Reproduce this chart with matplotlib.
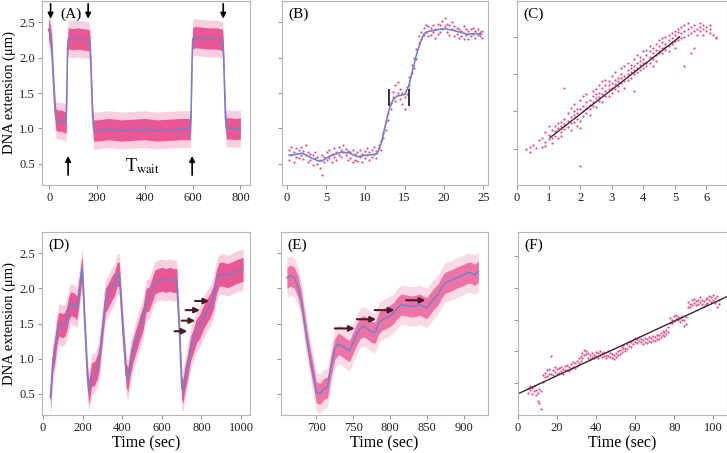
import matplotlib
matplotlib.use("Agg")
import matplotlib.pyplot as plt
import numpy as np

plt.rcParams['font.family'] = ['Liberation Serif', 'DejaVu Serif']
plt.rcParams['mathtext.fontset'] = 'stix'

# ---- data ----
# (A) step experiment: mean trace
a_t = [-3, 3, 10, 17, 24, 28, 35, 50, 65, 71, 74, 77, 80, 100, 120, 140, 160, 168,
       172, 177, 182, 186, 200, 250, 300, 350, 400, 450, 500, 550, 590, 594, 597,
       600, 610, 640, 670, 700, 725, 729, 733, 737, 741, 760, 780, 800]
a_y = [2.40, 2.33, 2.19, 1.70, 1.27, 1.13, 1.11, 1.11, 1.09, 1.08, 1.60, 2.15, 2.27,
       2.26, 2.27, 2.26, 2.25, 2.24, 2.10, 1.60, 1.15, 0.97, 0.97, 0.99, 0.97, 0.98,
       0.99, 0.97, 0.98, 0.99, 0.99, 1.30, 1.90, 2.27, 2.29, 2.28, 2.27, 2.27, 2.25,
       2.05, 1.60, 1.15, 1.00, 1.00, 0.99, 1.00]
a_down = [6, 163, 728]
a_up = [79, 598]

# (B) single transition: smoothed trace and raw points
b_mt = [0.3, 1, 2, 3, 4, 4.5, 5.5, 7, 8, 9, 10, 11, 11.5, 12, 12.5, 13, 13.5, 14, 15,
        15.5, 16, 16.5, 17, 17.5, 18, 19, 20, 21, 22, 23, 24, 24.8]
b_my = [0.62, 0.63, 0.65, 0.59, 0.54, 0.54, 0.61, 0.665, 0.65, 0.60, 0.62, 0.63, 0.64,
        0.78, 1.02, 1.26, 1.40, 1.455, 1.48, 1.59, 1.82, 2.04, 2.22, 2.34, 2.37, 2.39,
        2.41, 2.39, 2.36, 2.33, 2.34, 2.33]
b_t = [0.3, 0.6, 0.9, 1.2, 1.5, 1.8, 2.1, 2.4, 2.7, 3.0, 3.3, 3.6, 3.9, 4.2, 4.5, 4.8,
       5.1, 5.4, 5.7, 6.0, 6.3, 6.6, 6.9, 7.2, 7.5, 7.8, 8.1, 8.4, 8.7, 9.0, 9.3, 9.6,
       9.9, 10.2, 10.5, 10.8, 11.1, 11.4, 11.7, 12.0, 12.3, 12.6, 12.9, 13.2, 13.5,
       13.8, 14.1, 14.4, 14.7, 15.0, 15.3, 15.6, 15.9, 16.2, 16.5, 16.8, 17.1, 17.4,
       17.7, 18.0, 18.3, 18.6, 18.9, 19.2, 19.5, 19.8, 20.1, 20.4, 20.7, 21.0, 21.3,
       21.6, 21.9, 22.2, 22.5, 22.8, 23.1, 23.4, 23.7, 24.0, 24.3, 24.6, 24.9]
b_y1 = [0.70, 0.62, 0.66, 0.72, 0.58, 0.74, 0.68, 0.76, 0.52, 0.64, 0.48, 0.58, 0.50,
        0.44, 0.62, 0.52, 0.66, 0.58, 0.64, 0.72, 0.66, 0.74, 0.60, 0.76, 0.62, 0.68,
        0.58, 0.70, 0.56, 0.66, 0.60, 0.52, 0.68, 0.62, 0.56, 0.70, 0.64, 0.58, 0.72,
        0.82, 0.94, 1.10, 1.22, 1.36, 1.44, 1.62, 1.50, 1.42, 1.34, 1.45, 1.58, 1.72,
        1.90, 2.00, 2.12, 2.20, 2.26, 2.42, 2.36, 2.44, 2.32, 2.46, 2.40, 2.48, 2.36,
        2.52, 2.44, 2.36, 2.46, 2.40, 2.30, 2.42, 2.28, 2.38, 2.44, 2.32, 2.26, 2.40,
        2.34, 2.28, 2.40, 2.30, 2.38]
b_y2 = [0.55, 0.74, 0.52, 0.60, 0.69, 0.63, 0.57, 0.62, 0.66, 0.56, 0.62, 0.66, 0.60,
        0.56, 0.34, 0.60, 0.55, 0.70, 0.52, 0.60, 0.56, 0.62, 0.70, 0.66, 0.71, 0.56,
        0.66, 0.52, 0.64, 0.54, 0.70, 0.64, 0.58, 0.72, 0.66, 0.60, 0.74, 0.68, 0.76,
        0.70, 0.86, 0.98, 1.12, 1.28, 1.52, 1.38, 1.66, 1.56, 1.50, 1.28, 1.48, 1.62,
        1.78, 1.86, 1.98, 2.30, 2.36, 2.32, 2.46, 2.30, 2.42, 2.36, 2.28, 2.34, 2.46,
        2.40, 2.56, 2.48, 2.32, 2.50, 2.44, 2.34, 2.40, 2.30, 2.26, 2.40, 2.38, 2.30,
        2.42, 2.38, 2.32, 2.36, 2.28]
b_marks = [13.0, 15.5]

# (C) points and linear fit
c_x = [0.3, 0.4, 0.4, 0.5, 0.6, 0.7, 0.8, 0.8, 0.9, 0.9, 0.9, 1.0, 1.0, 1.0,
       1.1, 1.1, 1.1, 1.2, 1.2, 1.2, 1.3, 1.3, 1.3, 1.4, 1.4, 1.4, 1.4,
       1.5, 1.5, 1.5, 1.5, 1.6, 1.6, 1.6, 1.7, 1.7, 1.7, 1.7, 1.8, 1.8, 1.8, 1.8,
       1.9, 1.9, 1.9, 1.9, 2.0, 2.0, 2.0, 2.0, 2.0, 2.1, 2.1, 2.1, 2.1,
       2.2, 2.2, 2.2, 2.2, 2.3, 2.3, 2.3, 2.3, 2.4, 2.4, 2.4, 2.4, 2.5, 2.5, 2.5, 2.5,
       2.6, 2.6, 2.6, 2.6, 2.7, 2.7, 2.7, 2.7, 2.8, 2.8, 2.8, 2.8, 2.9, 2.9, 2.9, 2.9,
       3.0, 3.0, 3.0, 3.0, 3.1, 3.1, 3.1, 3.1, 3.2, 3.2, 3.2, 3.2, 3.3, 3.3, 3.3, 3.3,
       3.4, 3.4, 3.4, 3.4, 3.5, 3.5, 3.5, 3.5, 3.6, 3.6, 3.6, 3.6,
       3.7, 3.7, 3.7, 3.7, 3.7, 3.8, 3.8, 3.8, 3.8, 3.9, 3.9, 3.9, 3.9,
       4.0, 4.0, 4.0, 4.0, 4.1, 4.1, 4.1, 4.1, 4.2, 4.2, 4.2, 4.2, 4.3, 4.3, 4.3, 4.3,
       4.4, 4.4, 4.4, 4.4, 4.5, 4.5, 4.5, 4.5, 4.6, 4.6, 4.6, 4.6, 4.7, 4.7, 4.7, 4.7,
       4.8, 4.8, 4.8, 4.8, 4.9, 4.9, 4.9, 4.9, 5.0, 5.0, 5.0, 5.0, 5.1, 5.1, 5.1, 5.1,
       5.2, 5.2, 5.2, 5.3, 5.3, 5.3, 5.3, 5.4, 5.4, 5.4, 5.5, 5.5, 5.5, 5.6, 5.6, 5.6,
       5.7, 5.7, 5.8, 5.8, 5.8, 5.9, 5.9, 5.9, 6.0, 6.0, 6.1, 6.1, 6.1, 6.2, 6.3, 6.3]
c_y = [0.98, 1.05, 0.92, 1.10, 1.02, 1.22, 1.30, 1.05, 1.45, 1.18, 1.08, 1.60, 1.25, 1.38,
       1.30, 1.50, 1.15, 1.62, 1.35, 1.48, 1.55, 1.28, 1.70, 1.72, 1.45, 1.60, 1.35,
       1.80, 1.52, 2.62, 1.66, 1.95, 1.58, 1.75, 2.10, 1.68, 1.85, 1.50, 2.02, 1.72, 1.90, 2.20,
       1.80, 2.05, 1.62, 1.95, 2.30, 1.75, 2.05, 1.55, 0.55, 2.15, 1.88, 2.40, 2.00,
       2.25, 1.95, 2.10, 2.45, 2.05, 2.30, 2.18, 1.90, 2.40, 2.15, 2.55, 2.25, 2.35, 2.60, 2.12, 2.45,
       2.50, 2.28, 2.70, 2.38, 2.45, 2.62, 2.25, 2.80, 2.70, 2.40, 2.55, 2.85, 2.60, 2.80, 2.42, 2.70,
       2.75, 2.50, 2.95, 2.62, 2.85, 2.60, 2.72, 3.05, 2.68, 2.90, 2.80, 2.55, 3.00, 2.75, 2.88, 3.15,
       2.95, 2.80, 3.20, 2.62, 3.10, 2.85, 3.00, 3.30, 3.05, 3.25, 2.90, 3.15,
       3.20, 3.00, 3.40, 3.10, 2.55, 3.30, 3.05, 3.15, 3.50, 3.25, 3.45, 3.10, 3.35,
       3.40, 3.15, 3.60, 3.28, 3.50, 3.30, 3.20, 3.65, 3.45, 3.60, 3.30, 3.75, 3.55, 3.40, 3.70, 3.20,
       3.65, 3.50, 3.80, 3.35, 3.75, 3.55, 3.62, 3.90, 3.70, 3.85, 3.55, 3.95, 3.80, 3.65, 4.00, 3.72,
       3.90, 3.75, 4.05, 3.60, 3.95, 3.80, 4.10, 3.85, 4.05, 3.88, 3.70, 4.15, 4.00, 4.12, 3.90, 4.20,
       4.10, 3.95, 4.25, 4.15, 4.30, 4.00, 3.20, 4.20, 4.05, 4.35, 4.10, 4.25, 3.55, 4.15, 4.30, 3.70,
       4.05, 4.20, 4.25, 4.15, 4.35, 4.30, 4.20, 4.05, 4.15, 4.25, 4.20, 4.10, 4.30, 4.05, 4.00, 3.95]
c_fit_x = [1.05, 5.15]
c_fit_y = [1.30, 3.99]

# (D) repeated cycles: mean trace
d_t = [37, 40, 50, 60, 70, 80, 100, 110, 120, 130, 140, 160, 170, 180, 195, 198, 210,
       225, 232, 245, 260, 275, 285, 300, 315, 330, 345, 360, 375, 385, 400, 420, 428,
       440, 455, 470, 490, 505, 520, 535, 550, 565, 580, 600, 620, 640, 660, 675, 690,
       700, 706, 715, 730, 745, 760, 775, 790, 800, 815, 830, 845, 860, 875, 890, 910,
       930, 950, 970, 990, 1010]
d_y = [0.45, 0.56, 0.98, 1.12, 1.36, 1.49, 1.47, 1.49, 1.57, 1.71, 1.78, 1.76, 1.72,
       1.90, 2.25, 2.28, 1.54, 0.70, 0.53, 0.77, 0.79, 0.89, 1.03, 1.43, 1.83, 1.90,
       1.99, 2.06, 2.20, 2.20, 1.54, 0.77, 0.70, 0.93, 1.12, 1.26, 1.45, 1.57, 1.83,
       1.85, 1.97, 2.09, 2.11, 2.13, 2.11, 2.13, 2.11, 2.11, 1.31, 0.60, 0.53, 0.70,
       0.89, 1.14, 1.26, 1.40, 1.45, 1.52, 1.62, 1.69, 1.76, 1.87, 2.09, 2.20, 2.20,
       2.18, 2.20, 2.23, 2.25, 2.27]
d_arrow_x0 = [664, 700, 720, 768]
d_arrow_x1 = [729, 768, 792, 839]
d_arrow_y = [1.39, 1.54, 1.69, 1.82]

# (E) zoom on last cycle: mean trace
e_t = [660, 665, 670, 675, 680, 685, 690, 695, 700, 705, 710, 715, 720, 725, 730, 735,
       740, 745, 750, 755, 760, 765, 770, 775, 780, 785, 790, 795, 800, 805, 810, 815,
       820, 825, 830, 835, 840, 845, 850, 855, 860, 865, 870, 875, 880, 885, 890, 895,
       900, 905, 910, 915, 920]
e_y = [2.15, 2.18, 2.15, 2.03, 1.79, 1.42, 1.09, 0.81, 0.52, 0.50, 0.57, 0.59, 0.90,
       1.14, 1.21, 1.18, 1.14, 1.11, 1.23, 1.35, 1.44, 1.46, 1.42, 1.38, 1.37, 1.51,
       1.56, 1.58, 1.61, 1.65, 1.72, 1.77, 1.76, 1.75, 1.74, 1.75, 1.77, 1.74, 1.72,
       1.79, 1.86, 1.91, 2.01, 2.08, 2.10, 2.12, 2.15, 2.17, 2.19, 2.22, 2.22, 2.19, 2.24]
e_arrow_x0 = [725, 755, 779, 822]
e_arrow_x1 = [752, 781, 806, 848]
e_arrow_y = [1.43, 1.56, 1.69, 1.83]

# (F) points and linear fit
f_t = [5, 6, 7, 8, 9, 10, 11, 12, 13, 14, 15, 16, 17, 18, 19, 20, 21, 22, 23, 24,
       25, 26, 27, 28, 29, 30, 31, 32, 33, 34, 35, 36, 37, 38, 39, 40, 41, 42, 43, 44,
       45, 46, 47, 48, 49, 50, 51, 52, 53, 54, 55, 56, 57, 58, 59, 60, 61, 62, 63, 64,
       65, 66, 67, 68, 69, 70, 71, 72, 73, 74, 75, 76, 77, 78, 79, 80, 81, 82, 83, 84,
       85, 86, 87, 88, 89, 90, 91, 92, 93, 94, 95, 96, 97, 98, 99, 100, 101, 102, 103]
f_y1 = [0.85, 0.78, 0.66, 0.90, 0.80, 0.70, 0.38, 0.20, 1.25, 1.32, 1.40, 1.28, 1.85,
        1.42, 1.35, 1.30, 1.48, 1.38, 1.45, 1.55, 1.42, 1.50, 1.60, 1.52, 1.48, 1.70,
        1.62, 1.85, 1.95, 2.05, 1.92, 1.80, 1.88, 1.82, 1.90, 1.85, 1.95, 1.88, 1.82,
        1.98, 1.90, 1.85, 1.95, 1.80, 1.88, 1.95, 1.90, 2.05, 2.15, 2.08, 2.12, 2.22,
        2.18, 2.28, 2.35, 2.30, 2.38, 2.32, 2.40, 2.35, 2.30, 2.38, 2.32, 2.42, 2.36,
        2.45, 2.40, 2.50, 2.58, 2.52, 2.60, 2.55, 2.62, 2.90, 3.00, 3.10, 3.02, 2.98,
        3.05, 3.12, 2.80, 2.85, 3.40, 3.50, 3.60, 3.52, 3.45, 3.62, 3.55, 3.48, 3.58,
        3.65, 3.52, 3.60, 3.70, 3.62, 3.68, 3.75, 3.60]
f_y2 = [0.70, 0.92, 0.84, 0.74, 0.62, 0.45, 0.82, 0.75, 1.05, 1.18, 1.22, 1.45, 1.30,
        1.25, 1.50, 1.45, 1.32, 1.52, 1.30, 1.40, 1.58, 1.38, 1.45, 1.65, 1.62, 1.55,
        1.78, 1.70, 1.78, 1.88, 2.02, 1.95, 1.75, 1.95, 1.78, 1.98, 1.80, 2.02, 1.95,
        1.85, 1.78, 2.00, 1.82, 1.92, 1.75, 1.82, 2.02, 1.92, 1.98, 2.20, 2.00, 2.08,
        2.30, 2.15, 2.22, 2.42, 2.25, 2.45, 2.28, 2.22, 2.42, 2.26, 2.45, 2.30, 2.48,
        2.32, 2.52, 2.38, 2.45, 2.65, 2.48, 2.68, 2.75, 3.05, 2.88, 2.95, 3.15, 3.08,
        2.92, 2.98, 3.00, 3.08, 3.55, 3.38, 3.45, 3.65, 3.58, 3.48, 3.70, 3.60, 3.42,
        3.50, 3.68, 3.75, 3.55, 3.78, 3.52, 3.40, 3.48]
f_fit_x = [0, 107]
f_fit_y = [0.665, 3.72]

# ---- styling ----
PINK = '#e8488b'
PINK_LIGHT = '#f3a0c4'
BLUE = '#7282c6'
DARK = '#3b2430'
ARROW = '#4a1a26'
GRID = '#b5b5b5'

W, H = 727, 453
fig = plt.figure(figsize=(W / 100, H / 100), dpi=100)


def box(l, t, r, b):
    return fig.add_axes([l / W, 1 - b / H, (r - l) / W, (b - t) / H])


def style(ax):
    for s in ax.spines.values():
        s.set_color(GRID)
        s.set_linewidth(0.8)
    ax.tick_params(direction='out', length=3, width=0.7, color='#909090',
                   labelsize=9, labelcolor='#222222', pad=2)


def cloud(ax, t, y, inner, outer, a_in, a_out):
    y = np.array(y)
    ax.fill_between(t, y - outer, y + outer, color=PINK_LIGHT, alpha=a_out, lw=0)
    ax.fill_between(t, y - inner, y + inner, color=PINK, alpha=a_in, lw=0)
    ax.plot(t, y, color=BLUE, lw=1.1)


def arrow(ax, x0, y0, x1, y1, color, lw):
    ax.annotate('', xy=(x1, y1), xytext=(x0, y0),
                arrowprops=dict(arrowstyle='-|>', color=color, lw=lw,
                                mutation_scale=8, shrinkA=0, shrinkB=0))


ax_a = box(42, 1, 250, 185)
ax_b = box(282, 1, 488, 185)
ax_c = box(517, 1, 727, 185)
ax_d = box(42, 232, 250, 415)
ax_e = box(281, 232, 488, 415)
ax_f = box(518, 232, 727, 415)

# (A)
cloud(ax_a, a_t, a_y, 0.15, 0.26, 0.88, 0.5)
for x in a_down:
    arrow(ax_a, x, 2.76, x, 2.55, 'black', 1.2)
for x in a_up:
    arrow(ax_a, x, 0.34, x, 0.61, 'black', 1.2)
ax_a.text(390, 0.46, r'T$_{\rm wait}$', fontsize=13, ha='center', va='center')
ax_a.set_xlim(-30, 840)
ax_a.set_xticks([0, 200, 400, 600, 800])

# (B)
ax_b.scatter(b_t, b_y1, s=2.5, color=PINK, lw=0)
ax_b.scatter(b_t, b_y2, s=2.5, color=PINK, lw=0)
ax_b.plot(b_mt, b_my, color=BLUE, lw=1.2)
ax_b.vlines(b_marks, 1.31, 1.56, color='black', lw=1.1)
ax_b.set_xlim(-0.6, 25.6)
ax_b.set_xticks([0, 5, 10, 15, 20, 25])

# (C)
ax_c.scatter(c_x, c_y, s=2.5, color=PINK, lw=0)
ax_c.plot(c_fit_x, c_fit_y, color=DARK, lw=1.0)
ax_c.set_xlim(0, 6.65)
ax_c.set_ylim(0.03, 4.95)
ax_c.set_xticks([0, 1, 2, 3, 4, 5, 6])
ax_c.set_yticks([1, 2, 3, 4])

# (D)
cloud(ax_d, d_t, d_y, 0.17, 0.29, 0.88, 0.5)
for x0, x1, y in zip(d_arrow_x0, d_arrow_x1, d_arrow_y):
    arrow(ax_d, x0, y, x1, y, ARROW, 1.5)
ax_d.set_xlim(-5, 1045)
ax_d.set_xticks([0, 200, 400, 600, 800, 1000])

# (E)
cloud(ax_e, e_t, e_y, 0.15, 0.28, 0.7, 0.4)
for x0, x1, y in zip(e_arrow_x0, e_arrow_x1, e_arrow_y):
    arrow(ax_e, x0, y, x1, y, ARROW, 1.5)
ax_e.set_xlim(652, 933)
ax_e.set_xticks([700, 750, 800, 850, 900])

# (F)
ax_f.scatter(f_t, f_y1, s=2.5, color=PINK, lw=0)
ax_f.scatter(f_t, f_y2, s=2.5, color=PINK, lw=0)
ax_f.plot(f_fit_x, f_fit_y, color=DARK, lw=1.0)
ax_f.set_xlim(0, 107)
ax_f.set_ylim(0.0, 5.75)
ax_f.set_xticks([0, 20, 40, 60, 80, 100])
ax_f.set_yticks([1, 2, 3, 4, 5])

for ax in (ax_a, ax_b, ax_d, ax_e):
    ax.set_ylim(0.2, 2.8)
    ax.set_yticks([0.5, 1.0, 1.5, 2.0, 2.5])
for ax in (ax_b, ax_c, ax_e, ax_f):
    ax.set_yticklabels([])
for ax in (ax_a, ax_d):
    ax.set_yticklabels(['0.5', '1.0', '1.5', '2.0', '2.5'])
    ax.set_ylabel('DNA extension (μm)', fontsize=10.5)
    ax.yaxis.set_label_coords(-0.126, 0.5)
for ax in (ax_d, ax_e, ax_f):
    ax.set_xlabel('Time (sec)', fontsize=11.5, labelpad=1)

for ax, lab in zip((ax_a, ax_b, ax_c, ax_d, ax_e, ax_f), 'ABCDEF'):
    style(ax)
    x0 = 0.09 if lab == 'A' else 0.03
    ax.text(x0, 0.93, '(%s)' % lab, transform=ax.transAxes, fontsize=11,
            ha='left', va='center')

fig.savefig('out.png', dpi=100)
